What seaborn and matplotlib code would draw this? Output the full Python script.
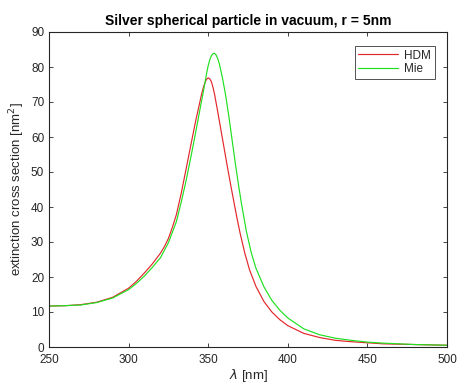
import numpy as np
import pandas as pd
import matplotlib
matplotlib.use("Agg")
import matplotlib.pyplot as plt
import seaborn as sns

# ---- data ----
hdm_wl = [250, 260, 270, 280, 290, 300, 305, 310, 315, 320, 322.5, 325, 327.5, 330, 333,
          336, 339, 342, 345, 346, 347, 348, 349, 350, 351, 352, 353, 354, 356, 358,
          360, 362, 364, 366, 368, 370, 373, 376, 380, 385, 390, 395, 400, 410, 420,
          430, 440, 450, 460, 470, 480, 490, 500]
hdm_val = [11.7, 11.8, 12.1, 12.8, 14.2, 16.8, 18.8, 21.2, 23.8, 26.8, 28.7, 31.0, 34.2,
           37.8, 43.8, 50.6, 57.5, 64.3, 70.5, 72.5, 74.2, 75.6, 76.5, 76.9, 76.6, 75.8,
           74.2, 72.2, 67.2, 62.0, 56.8, 51.6, 46.6, 41.8, 37.0, 32.6, 26.8, 22.0, 17.3,
           13.0, 10.0, 7.8, 6.1, 3.9, 2.7, 1.9, 1.5, 1.2, 0.9, 0.8, 0.7, 0.6, 0.5]

mie_wl = [250, 260, 270, 280, 290, 300, 305, 310, 315, 320, 325, 330, 333, 336, 339,
          342, 345, 348, 349, 350, 351, 352, 353, 354, 355, 356, 357, 359, 361, 363,
          365, 367, 369, 371, 374, 377, 380, 385, 390, 395, 400, 410, 420, 430, 440,
          450, 460, 470, 480, 490, 500]
mie_val = [11.7, 11.8, 12.0, 12.7, 14.0, 16.4, 18.2, 20.3, 22.8, 25.5, 29.8, 35.8, 41.3,
           47.3, 54.0, 61.0, 68.3, 75.5, 78.2, 80.4, 82.1, 83.2, 83.8, 83.9, 83.4, 82.4,
           80.9, 76.8, 71.8, 65.8, 59.2, 52.6, 46.4, 40.7, 33.0, 27.0, 22.5, 17.2, 13.3,
           10.5, 8.3, 5.2, 3.5, 2.5, 1.9, 1.4, 1.1, 0.9, 0.7, 0.6, 0.5]

series_names = ["HDM", "Mie"]
title = "Silver spherical particle in vacuum, r = 5nm"
x_ticks = [250, 300, 350, 400, 450, 500]
y_ticks = [0, 10, 20, 30, 40, 50, 60, 70, 80, 90]

df = pd.concat([
    pd.DataFrame({"wl": hdm_wl, "val": hdm_val, "model": series_names[0]}),
    pd.DataFrame({"wl": mie_wl, "val": mie_val, "model": series_names[1]}),
], ignore_index=True)

sns.set_style("white")
plt.rcParams["font.family"] = ["Liberation Sans", "DejaVu Sans"]
plt.rcParams["mathtext.fontset"] = "dejavusans"

W, H = 457, 388
fig = plt.figure(figsize=(W / 100, H / 100), dpi=100)
ax = fig.add_axes([49 / W, 1 - 347 / H, (447 - 49) / W, (347 - 32) / H])

sns.lineplot(data=df, x="wl", y="val", hue="model",
             palette={"HDM": "#e3262c", "Mie": "#1fe01f"},
             estimator=None, sort=True, linewidth=0.85, ax=ax)

ax.set_xlim(250, 500)
ax.set_ylim(0, 90)
ax.set_xticks(x_ticks)
ax.set_yticks(y_ticks)
gray = "#262626"
for s in ax.spines.values():
    s.set_color(gray)
    s.set_linewidth(0.8)
ax.tick_params(direction="in", length=3, width=0.6, color=gray, labelcolor=gray,
               labelsize=8.5, top=True, right=True, bottom=True, left=True,
               labeltop=False, labelright=False)
ax.tick_params(axis="x", pad=5)
ax.set_xlabel(r"$\lambda$ [nm]", fontsize=9.5, color=gray, labelpad=1)
ax.set_ylabel(r"extinction cross section [nm$^2$]", fontsize=9.5, color=gray, labelpad=3)
ax.set_title(title, fontsize=10, fontweight="bold", color="black", pad=5)

leg = ax.legend(loc="upper right", bbox_to_anchor=(0.975, 0.963), fontsize=8.5,
                frameon=True, fancybox=False, handlelength=3.4, handletextpad=0.5,
                borderpad=0.3, labelspacing=0.15, borderaxespad=0.2)
leg.get_frame().set_edgecolor(gray)
leg.get_frame().set_linewidth(0.7)
for t in leg.get_texts():
    t.set_color(gray)

fig.savefig("out.png", dpi=100)
